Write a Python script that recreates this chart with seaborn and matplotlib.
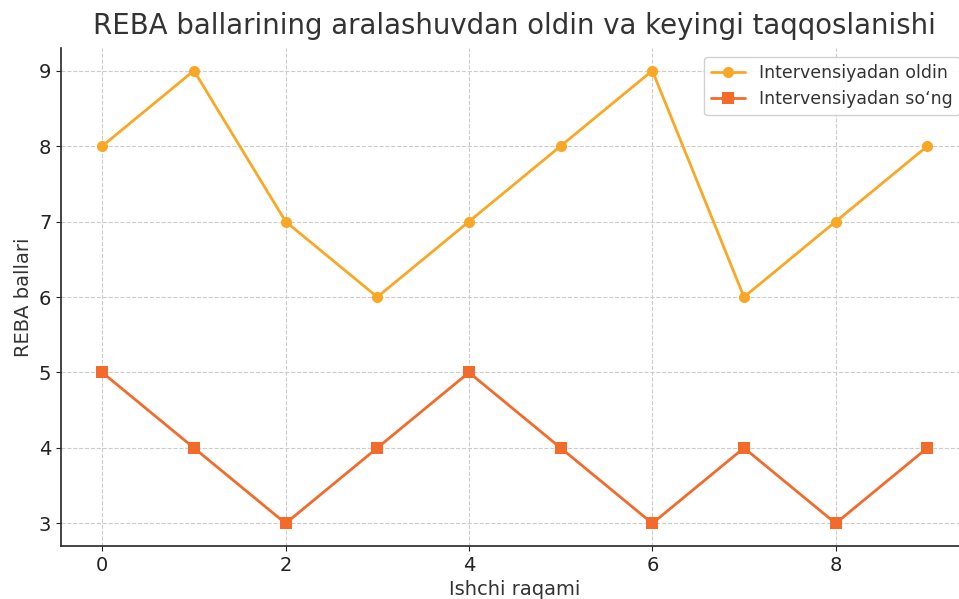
import matplotlib
matplotlib.use("Agg")
import matplotlib.pyplot as plt
import seaborn as sns
import pandas as pd

# REBA scores per worker, before and after the intervention
workers = [0, 1, 2, 3, 4, 5, 6, 7, 8, 9]
before = [8, 9, 7, 6, 7, 8, 9, 6, 7, 8]
after = [5, 4, 3, 4, 5, 4, 3, 4, 3, 4]
label_before = "Intervensiyadan oldin"
label_after = "Intervensiyadan so‘ng"

df = pd.DataFrame({"Ishchi": workers, label_before: before, label_after: after})
long_df = df.melt(id_vars="Ishchi", var_name="Holat", value_name="REBA")

sns.set_style("ticks")
plt.rcParams['font.family'] = ['DejaVu Sans']
text_color = "#333333"

fig = plt.figure(figsize=(9.59, 5.99), dpi=100)
ax = fig.add_axes([61 / 959, 53 / 599, 907.6 / 959, 498 / 599])

sns.lineplot(data=long_df, x="Ishchi", y="REBA", hue="Holat", style="Holat",
             markers={label_before: "o", label_after: "s"}, dashes=False,
             palette={label_before: "#F9A825", label_after: "#F26B2A"},
             linewidth=2, markersize=8, markeredgewidth=0, ax=ax)

ax.set_title("REBA ballarining aralashuvdan oldin va keyingi taqqoslanishi",
             fontsize=19.8, color=text_color, pad=10)
ax.set_xlabel("Ishchi raqami", fontsize=14, color=text_color)
ax.set_ylabel("REBA ballari", fontsize=14, color=text_color)
ax.tick_params(labelsize=14, colors="#222222")
ax.grid(True, linestyle="--", color="#cccccc", linewidth=0.8)
sns.despine(ax=ax)
ax.spines["left"].set_linewidth(1.2)
ax.spines["bottom"].set_linewidth(1.2)

leg = ax.legend(loc="upper right", bbox_to_anchor=(1.0, 1.0), fontsize=12.5,
                frameon=True, framealpha=0.9)
for t in leg.get_texts():
    t.set_color(text_color)

fig.savefig("out.png", dpi=100)
